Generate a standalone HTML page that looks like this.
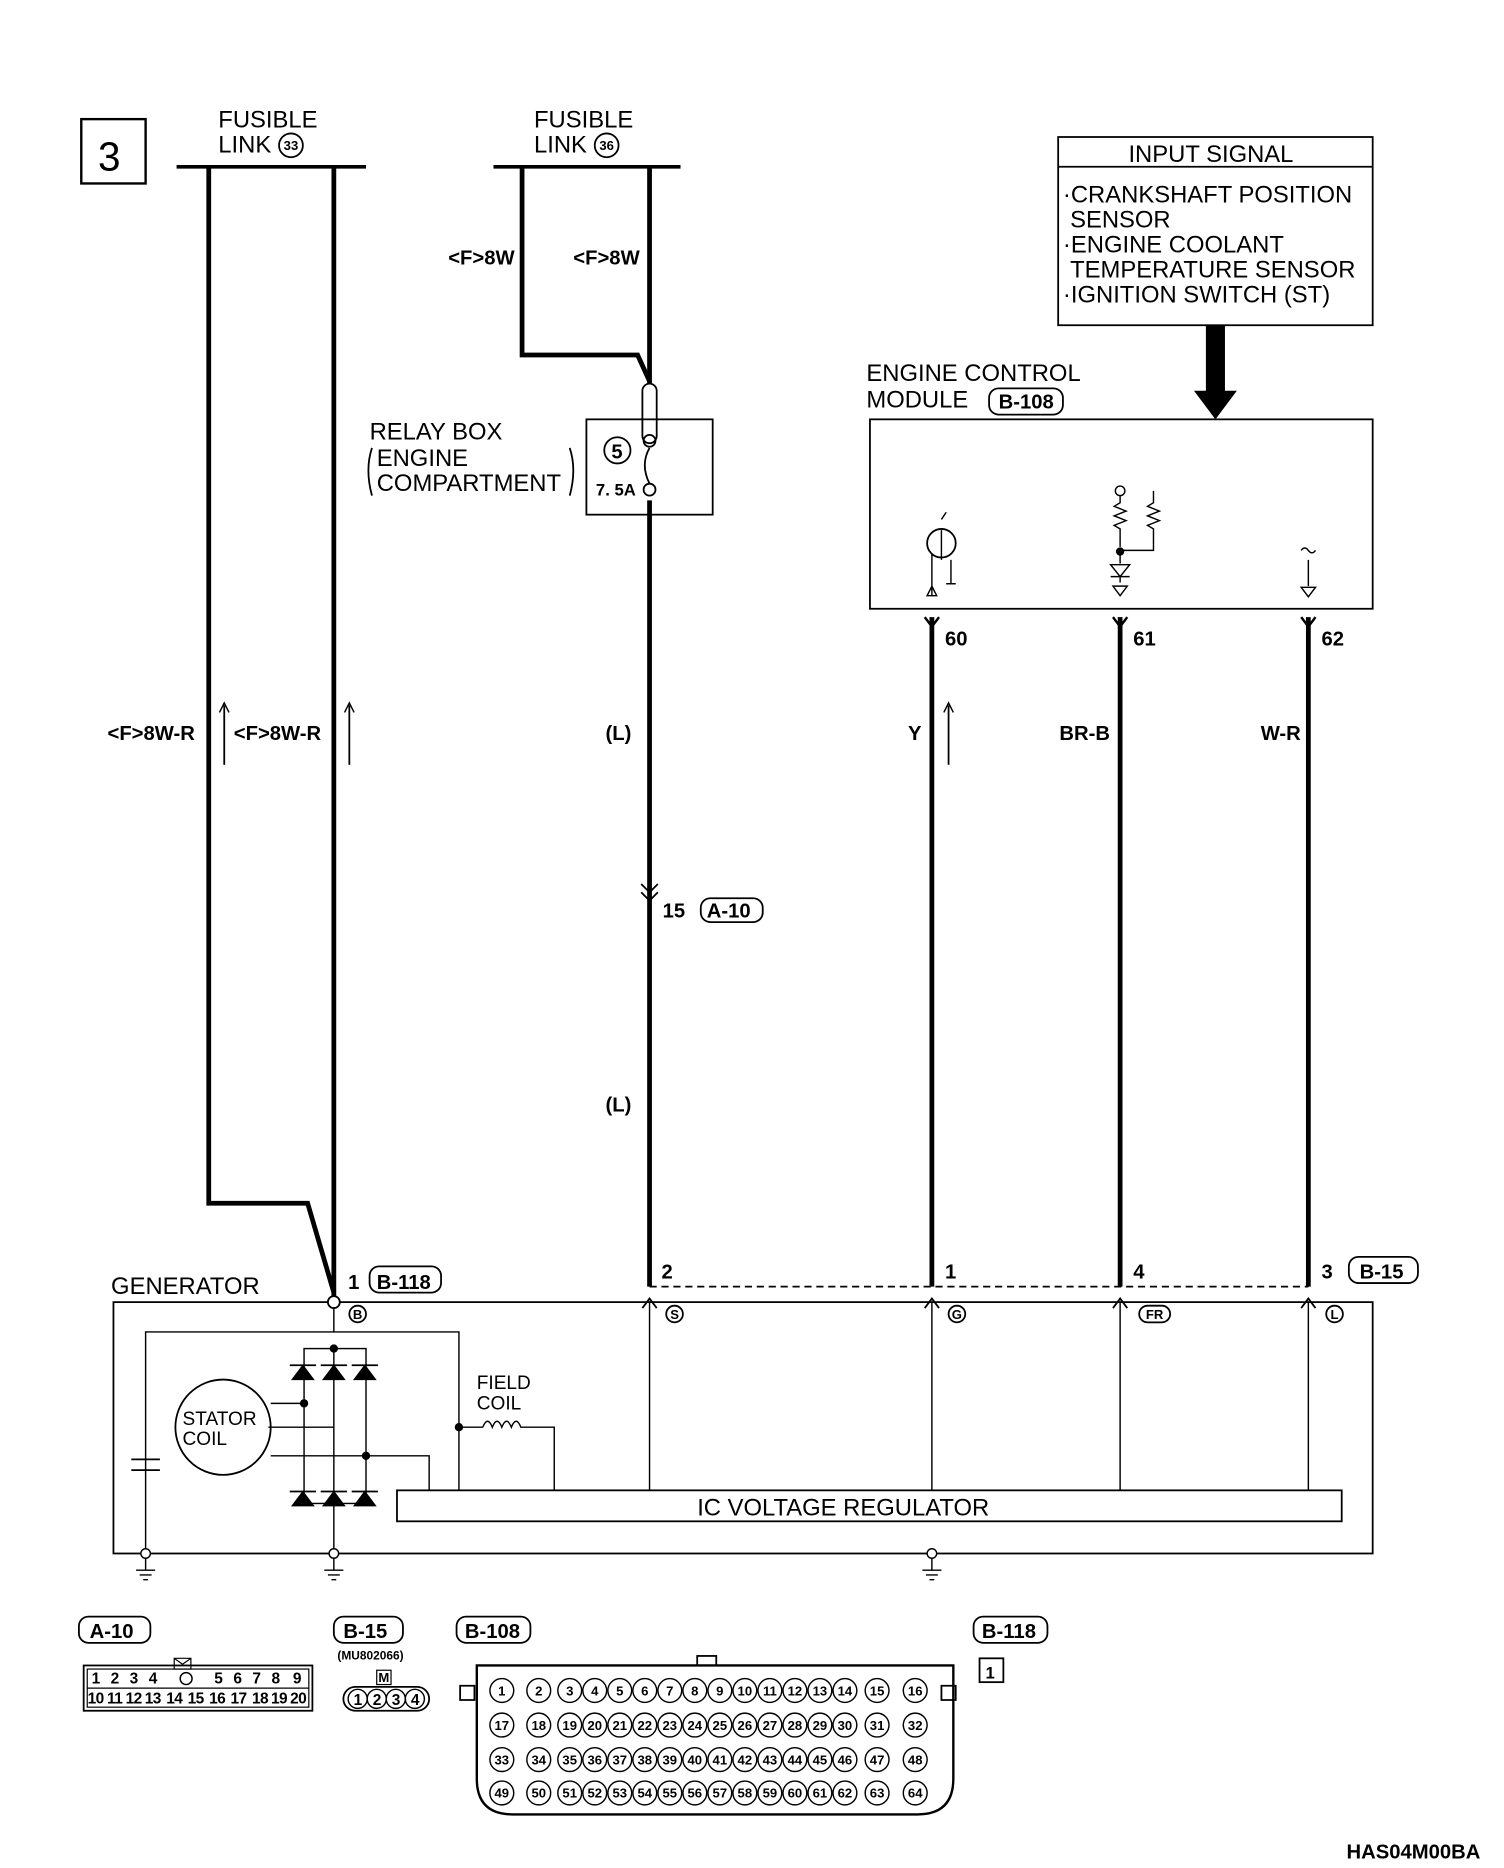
<!DOCTYPE html>
<html><head><meta charset="utf-8"><style>
html,body{margin:0;padding:0;background:#fff}
svg{display:block}
text{font-family:"Liberation Sans",sans-serif;fill:#000}
.b{font-weight:bold}
</style></head><body>
<svg width="1504" height="1868" viewBox="0 0 1262 1568" xmlns="http://www.w3.org/2000/svg">
<g fill="none" stroke="#000">
<rect x="68" y="100" width="54" height="54" stroke-width="2"/>
<line x1="148" y1="140" x2="307" y2="140" stroke-width="3"/>
<line x1="414" y1="140" x2="571" y2="140" stroke-width="3"/>
<polyline points="175,140 175,1010 258,1010 280,1085" stroke-width="4"/>
<line x1="280" y1="140" x2="280" y2="1088" stroke-width="4"/>
<polyline points="438,140 438,298 535,298 545,320" stroke-width="4"/>
<line x1="545" y1="140" x2="545" y2="322" stroke-width="4"/>
<line x1="545" y1="420" x2="545" y2="1080" stroke-width="4"/>
<rect x="492" y="352" width="106" height="80" stroke-width="1.5"/>
<rect x="539" y="322" width="12" height="50" rx="6" stroke-width="1.5"/>
<circle cx="545" cy="370" r="5" stroke-width="1.5"/>
<circle cx="545" cy="411" r="5" stroke-width="1.5"/>
<path d="M545,376 q-8,14 0,30" stroke-width="1.5"/>
<circle cx="518" cy="378" r="11" stroke-width="1.5"/>
<path d="M312,376 q-6,18 0,40 M478,376 q6,18 0,40" stroke-width="1.5"/>
<rect x="888" y="115" width="264" height="158" stroke-width="1.5"/>
<line x1="888" y1="140" x2="1152" y2="140" stroke-width="1.5"/>
<rect x="730" y="352" width="422" height="159" stroke-width="1.5"/>
<line x1="782" y1="518" x2="782" y2="1080" stroke-width="4"/>
<line x1="940" y1="518" x2="940" y2="1080" stroke-width="4"/>
<line x1="1098" y1="518" x2="1098" y2="1080" stroke-width="4"/>
<path d="M776,518 l6,8 l6,-8 M934,518 l6,8 l6,-8 M1092,518 l6,8 l6,-8" stroke-width="2"/>
<line x1="188" y1="642" x2="188" y2="592" stroke-width="1.5"/>
<line x1="293" y1="642" x2="293" y2="592" stroke-width="1.5"/>
<line x1="796" y1="642" x2="796" y2="592" stroke-width="1.5"/>
<path d="M184,598 l4,-8 l4,8 M289,598 l4,-8 l4,8 M792,598 l4,-8 l4,8" stroke-width="1.2"/>
<path d="M538,742 l7,7 l7,-7 M538,749 l7,7 l7,-7" stroke-width="1.5"/>
<line x1="545" y1="1080" x2="1098" y2="1080" stroke-width="1.5" stroke-dasharray="6,4"/>
<rect x="95" y="1093" width="1057" height="211" stroke-width="1.5"/>
<rect x="333" y="1251" width="793" height="26" stroke-width="1.5"/>
<circle cx="280" cy="1093" r="5" stroke-width="1.5" fill="#fff"/>
<path d="M539,1098 l6,-8 l6,8 M776,1098 l6,-8 l6,8 M934,1098 l6,-8 l6,8 M1092,1098 l6,-8 l6,8" stroke-width="1.5"/>
<line x1="545" y1="1093" x2="545" y2="1251" stroke-width="1.2"/>
<line x1="782" y1="1093" x2="782" y2="1251" stroke-width="1.2"/>
<line x1="940" y1="1093" x2="940" y2="1251" stroke-width="1.2"/>
<line x1="1098" y1="1093" x2="1098" y2="1251" stroke-width="1.2"/>
<polyline points="280,1098 280,1118 385,1118 385,1251" stroke-width="1.2"/>
<polyline points="122,1304 122,1118 280,1118" stroke-width="1.2"/>
<line x1="110" y1="1225" x2="134" y2="1225" stroke-width="1.5"/><line x1="110" y1="1234" x2="134" y2="1234" stroke-width="1.5"/>
<circle cx="187" cy="1198" r="40" stroke-width="1.5"/>
<rect x="255" y="1132" width="52" height="130" stroke-width="1.2"/>
<line x1="280" y1="1132" x2="280" y2="1304" stroke-width="1.2"/>
<path d="M227,1178 H255 M227,1222 H307 H360 V1251 M225,1198 H280" stroke-width="1.2"/>
<path d="M405,1198 H385 M405,1198 q4,-10 8,0 q4,-10 8,0 q4,-10 8,0 q4,-10 8,0 H465 V1251" stroke-width="1.2"/>
<line x1="122" y1="1304" x2="122" y2="1318" stroke-width="1.2"/>
<line x1="280" y1="1304" x2="280" y2="1318" stroke-width="1.2"/>
<line x1="782" y1="1304" x2="782" y2="1318" stroke-width="1.2"/>
<g stroke-width="1.2">
<path d="M114,1318 h16 M117,1322 h10 M120,1326 h4"/>
<path d="M272,1318 h16 M275,1322 h10 M278,1326 h4"/>
<path d="M774,1318 h16 M777,1322 h10 M780,1326 h4"/>
</g>
<circle cx="122" cy="1304" r="4" fill="#fff" stroke-width="1.2"/>
<circle cx="280" cy="1304" r="4" fill="#fff" stroke-width="1.2"/>
<circle cx="782" cy="1304" r="4" fill="#fff" stroke-width="1.2"/>
<circle cx="790" cy="456" r="12" stroke-width="1.5"/>
<path d="M782,500 V465 M790,445 V470 M798,470 V490 M794,490 h8 M782,492 l-4,8 h8 z M790,436 l4,-6" stroke-width="1.2"/>
<circle cx="940" cy="412" r="4" stroke-width="1.2"/>
<path d="M940,416 v6 l-5,3 l10,4 l-10,4 l10,4 l-10,4 l5,3 v15 M968,412 v10 l-5,3 l10,4 l-10,4 l10,4 l-10,4 l5,3 v18 h-28 M940,463 v10 M932,474 h16 l-8,10 z M932,484 h16 M940,484 v5 M934,492 l6,8 l6,-8 z M1098,470 v22 M1092,493 h12 l-6,8 z M1092,462 q3,-4 6,0 q3,4 6,0" stroke-width="1.2"/>
<rect x="70" y="1398" width="192" height="38" stroke-width="1.5"/>
<rect x="73" y="1401" width="186" height="32" stroke-width="1"/>
<line x1="73" y1="1417" x2="259" y2="1417" stroke-width="1"/>
<path d="M386,1415 h12 v12 h-12 z M790,1415 h12 v12 h-12 z" stroke-width="1.5"/>
<path d="M400,1398 h400 v95 q0,30 -30,30 h-340 q-30,0 -30,-30 z" stroke-width="2"/>
<rect x="585" y="1390" width="16" height="8" stroke-width="1.5"/>
<rect x="822" y="1392" width="20" height="20" stroke-width="1.5"/>
<rect x="288" y="1416" width="72" height="20" rx="10" stroke-width="1.5"/>
<rect x="316" y="1402" width="12" height="12" stroke-width="1"/>
<path d="M146,1392 h14 v9 h-14 z M146,1392 l7,5 l7,-5" stroke-width="1"/>
</g>
<path d="M1012,273 h16 v55 h10 l-18,24 l-18,-24 h10 z" fill="#000"/>
<g fill="#000" stroke="#000" stroke-width="1">
<path d="M245,1158 l9,-12 l9,12 z M271,1158 l9,-12 l9,12 z M297,1158 l9,-12 l9,12 z"/>
<path d="M245,1264 l9,-12 l9,12 z M271,1264 l9,-12 l9,12 z M297,1264 l9,-12 l9,12 z"/>
<circle cx="280" cy="1132" r="3"/><circle cx="307" cy="1222" r="3"/><circle cx="385" cy="1198" r="3"/><circle cx="255" cy="1178" r="3"/><circle cx="940" cy="463" r="3"/>
</g>
<g stroke="#000" stroke-width="1.5">
<line x1="243" y1="1146" x2="265" y2="1146"/><line x1="269" y1="1146" x2="291" y2="1146"/><line x1="295" y1="1146" x2="317" y2="1146"/>
<line x1="243" y1="1252" x2="265" y2="1252"/><line x1="269" y1="1252" x2="291" y2="1252"/><line x1="295" y1="1252" x2="317" y2="1252"/>
</g>
<g font-size="20">
<text x="82" y="143" font-size="34">3</text>
<text x="183" y="107">FUSIBLE</text><text x="183" y="128">LINK</text>
<text x="448" y="107">FUSIBLE</text><text x="448" y="128">LINK</text>
<text x="310" y="369">RELAY BOX</text><text x="316" y="391">ENGINE</text><text x="316" y="412">COMPARTMENT</text>
<text x="947" y="136">INPUT SIGNAL</text>
<text x="892" y="170">·CRANKSHAFT POSITION</text><text x="898" y="191">SENSOR</text>
<text x="892" y="212">·ENGINE COOLANT</text><text x="898" y="233">TEMPERATURE SENSOR</text>
<text x="892" y="254">·IGNITION SWITCH (ST)</text>
<text x="727" y="320">ENGINE CONTROL</text><text x="727" y="342">MODULE</text>
<text x="93" y="1086">GENERATOR</text>
<text x="585" y="1272">IC VOLTAGE REGULATOR</text>
</g>
<g font-size="16">
<text x="400" y="1166">FIELD</text><text x="400" y="1183">COIL</text>
<text x="153" y="1196">STATOR</text><text x="153" y="1213">COIL</text>
</g>
<g font-size="17" class="b">
<text x="376" y="222">&lt;F&gt;8W</text><text x="481" y="222">&lt;F&gt;8W</text>
<text x="90" y="621">&lt;F&gt;8W-R</text><text x="196" y="621">&lt;F&gt;8W-R</text>
<text x="508" y="621">(L)</text><text x="508" y="933">(L)</text>
<text x="762" y="621">Y</text><text x="889" y="621">BR-B</text><text x="1058" y="621">W-R</text>
<text x="793" y="542">60</text><text x="951" y="542">61</text><text x="1109" y="542">62</text>
<text x="556" y="770">15</text><text x="593" y="770">A-10</text>
<text x="500" y="416" font-size="14">7. 5A</text>
<text x="513" y="385">5</text>
<text x="292" y="1082">1</text><text x="316" y="1082">B-118</text>
<text x="555" y="1073">2</text><text x="793" y="1073">1</text><text x="951" y="1073">4</text><text x="1109" y="1073">3</text><text x="1141" y="1073">B-15</text>
<text x="838" y="343">B-108</text>
<text x="75" y="1375">A-10</text><text x="288" y="1375">B-15</text><text x="390" y="1375">B-108</text><text x="824" y="1375">B-118</text>
<text x="1130" y="1560" font-size="17">HAS04M00BA</text>
<text x="283" y="1393" font-size="10">(MU802066)</text>
<text x="827" y="1409" font-size="14">1</text>
</g>
<g fill="none" stroke="#000" stroke-width="1.5">
<rect x="588" y="754" width="52" height="20" rx="8"/>
<rect x="310" y="1063" width="60" height="22" rx="8"/><rect x="1132" y="1055" width="58" height="22" rx="8"/>
<rect x="830" y="326" width="62" height="22" rx="8"/>
<rect x="66" y="1357" width="60" height="22" rx="8"/><rect x="280" y="1357" width="58" height="22" rx="8"/><rect x="383" y="1357" width="62" height="22" rx="8"/><rect x="817" y="1357" width="62" height="22" rx="8"/>
<circle cx="244" cy="122" r="10"/><circle cx="509" cy="122" r="10"/>
<circle cx="300" cy="1103" r="7"/><circle cx="566" cy="1103" r="7"/><circle cx="803" cy="1103" r="7"/><rect x="956" y="1096" width="26" height="14" rx="7"/><circle cx="1120" cy="1103" r="7"/>
</g>
<g font-size="11" font-weight="bold" text-anchor="middle">
<text x="244" y="126">33</text><text x="509" y="126">36</text>
<text x="300" y="1107">B</text><text x="566" y="1107">S</text><text x="803" y="1107">G</text><text x="969" y="1107">FR</text><text x="1120" y="1107">L</text>
<text x="322" y="1412">M</text>
</g>
<g font-size="13" class="b" text-anchor="middle" letter-spacing="-0.5">
<text x="80" y="1413">1</text><text x="96" y="1413">2</text><text x="112" y="1413">3</text><text x="128" y="1413">4</text><text x="183" y="1413">5</text><text x="199" y="1413">6</text><text x="215" y="1413">7</text><text x="231" y="1413">8</text><text x="249" y="1413">9</text>
<text x="80" y="1430">10</text><text x="96" y="1430">11</text><text x="112" y="1430">12</text><text x="128" y="1430">13</text><text x="146" y="1430">14</text><text x="164" y="1430">15</text><text x="182" y="1430">16</text><text x="200" y="1430">17</text><text x="218" y="1430">18</text><text x="234" y="1430">19</text><text x="250" y="1430">20</text>
<text x="300" y="1431">1</text><text x="316" y="1431">2</text><text x="332" y="1431">3</text><text x="348" y="1431">4</text>
</g>
<circle cx="156" cy="1409" r="5" fill="none" stroke="#000" stroke-width="1.2"/>
<g fill="none" stroke="#000" stroke-width="1.2" id="pins"></g>
<g font-size="11" font-weight="bold" text-anchor="middle" id="ecm"></g>
<g fill="none" stroke="#000" stroke-width="1.2">
<circle cx="300" cy="1426" r="8"/><circle cx="316" cy="1426" r="8"/><circle cx="332" cy="1426" r="8"/><circle cx="348" cy="1426" r="8"/>
</g>
<script>
var xs=[421,452,478,499,520,541,562,583,604,625,646,667,688,709,736,768];
var ys=[1419,1448,1477,1505];var g=document.getElementById('pins'),t=document.getElementById('ecm');var ns='http://www.w3.org/2000/svg';var n=1;
for(var r=0;r<4;r++)for(var c=0;c<16;c++){var ci=document.createElementNS(ns,'circle');ci.setAttribute('cx',xs[c]);ci.setAttribute('cy',ys[r]);ci.setAttribute('r',10);g.appendChild(ci);var tx=document.createElementNS(ns,'text');tx.setAttribute('x',xs[c]);tx.setAttribute('y',ys[r]+4);tx.textContent=n++;t.appendChild(tx);}
</script>
</svg>
</body></html>
